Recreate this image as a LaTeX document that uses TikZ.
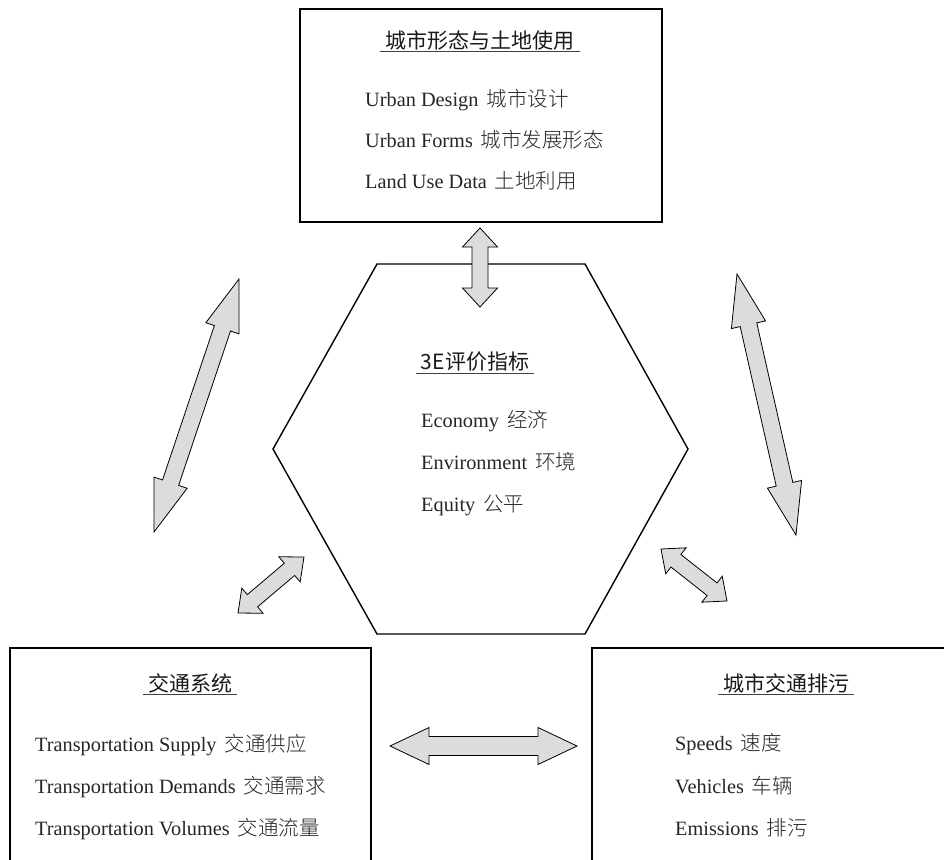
\documentclass[tikz,border=0pt]{standalone}
\usepackage{fontspec}
\setmainfont{Liberation Serif}
\newfontfamily\cjk{Noto Sans CJK SC}
\newfontfamily\cjklight{Noto Sans CJK SC Light}
\usetikzlibrary{calc}
\newcommand\zh[1]{{\cjklight\fontsize{20.5}{22}\selectfont #1}}
\newcommand\entrytext[2]{#1\hspace{8pt}\zh{#2}}
\newcommand\barrow[5]{%
  \pgfpointdiff{\pgfpointanchor{#1}{center}}{\pgfpointanchor{#2}{center}}%
  \pgfgetlastxy{\bdx}{\bdy}%
  \pgfmathsetmacro\bang{atan2(\bdy,\bdx)}%
  \pgfmathsetmacro\blen{veclen(\bdx,\bdy)}%
  \begin{scope}[shift={(#1)},rotate=\bang]
    \draw[blockarrowstyle] (0pt,0pt) -- (#5pt,#4pt) -- (#5pt,#3pt) -- (\blen pt-#5pt,#3pt) -- (\blen pt-#5pt,#4pt) -- (\blen pt,0pt) -- (\blen pt-#5pt,-#4pt) -- (\blen pt-#5pt,-#3pt) -- (#5pt,-#3pt) -- (#5pt,-#4pt) -- cycle;
  \end{scope}}
\definecolor{arrowgray}{HTML}{DCDCDC}
\tikzset{
  box/.style={draw=black, line width=1.8pt, fill=none, inner sep=0pt},
  hexline/.style={draw=black, line width=1.4pt, line join=miter},
  blockarrowstyle/.style={draw=black, line width=0.8pt, fill=arrowgray, line join=miter},
  titletext/.style={inner sep=0pt, font=\cjk\fontsize{21}{24}\selectfont, text=black!90},
  itemtext/.style={anchor=base west, inner sep=0pt, font=\fontsize{20.3}{22}\selectfont, text=black!85},
  uline/.style={draw=black!75, line width=1.3pt},
}
\begin{document}
\begin{tikzpicture}[x=1pt,y=-1pt]
\useasboundingbox (0,0) rectangle (944,859);
\clip (0,0) rectangle (944,859);
\fill[white] (0,0) rectangle (944,859);

% boxes
\node[box, minimum width=362pt, minimum height=213pt] (landuse) at (481,115.5) {};
\node[box, minimum width=361pt, minimum height=252pt] (transport) at (190.5,774) {};
\node[box, minimum width=408pt, minimum height=252pt] (emission) at (796,774) {};

% hexagon
\coordinate (hex) at (481,449);
\draw[hexline] (377,264) -- (585,264) -- (688,449) -- (585,634) -- (377,634) -- (273,449) -- cycle;

% top box text
\node[titletext] (t1) at (480,40) {城市形态与土地使用};
\draw[uline] ([xshift=-5pt,yshift=-1.5pt]t1.south west) -- ([xshift=5pt,yshift=-1.5pt]t1.south east);
\node[itemtext] (l11) at (365,106) {\entrytext{Urban Design}{城市设计}};
\node[itemtext] (l12) at (365,147) {\entrytext{Urban Forms}{城市发展形态}};
\node[itemtext] (l13) at (365,188) {\entrytext{Land Use Data}{土地利用}};

% hexagon text
\node[titletext] (t2) at (475,362) {3E评价指标};
\draw[uline] ([xshift=-5pt,yshift=-1.5pt]t2.south west) -- ([xshift=5pt,yshift=-1.5pt]t2.south east);
\node[itemtext] (l21) at (421,427) {\entrytext{Economy}{经济}};
\node[itemtext] (l22) at (421,469) {\entrytext{Environment}{环境}};
\node[itemtext] (l23) at (421,511) {\entrytext{Equity}{公平}};

% bottom-left text
\node[titletext] (t3) at (190,683) {交通系统};
\draw[uline] ([xshift=-5pt,yshift=-1.5pt]t3.south west) -- ([xshift=5pt,yshift=-1.5pt]t3.south east);
\node[itemtext] (l31) at (35,751) {\entrytext{Transportation Supply}{交通供应}};
\node[itemtext] (l32) at (35,793) {\entrytext{Transportation Demands}{交通需求}};
\node[itemtext] (l33) at (35,835) {\entrytext{Transportation Volumes}{交通流量}};

% bottom-right text
\node[titletext] (t4) at (786,683) {城市交通排污};
\draw[uline] ([xshift=-5pt,yshift=-1.5pt]t4.south west) -- ([xshift=5pt,yshift=-1.5pt]t4.south east);
\node[itemtext] (l41) at (675,750) {\entrytext{Speeds}{速度}};
\node[itemtext] (l42) at (675,793) {\entrytext{Vehicles}{车辆}};
\node[itemtext] (l43) at (675,835) {\entrytext{Emissions}{排污}};

% arrow end points
\coordinate (aTopA) at (480,228);
\coordinate (aTopB) at (480,307);
\coordinate (aLA) at (239,279);
\coordinate (aLB) at (154,532);
\coordinate (aRA) at (737,274);
\coordinate (aRB) at (796,535);
\coordinate (aHA) at (390,746);
\coordinate (aHB) at (577,746);
\coordinate (aSLA) at (238,613);
\coordinate (aSLB) at (304,557);
\coordinate (aSRA) at (661,549);
\coordinate (aSRB) at (727,601);

% block arrows
\barrow{aTopA}{aTopB}{8}{17.5}{19}
\barrow{aLA}{aLB}{8.5}{17.5}{52}
\barrow{aRA}{aRB}{8.5}{17.5}{52}
\barrow{aHA}{aHB}{9.5}{18.5}{39}
\barrow{aSLA}{aSLB}{8}{16.5}{19}
\barrow{aSRA}{aSRB}{8}{16.5}{19}
\end{tikzpicture}
\end{document}
